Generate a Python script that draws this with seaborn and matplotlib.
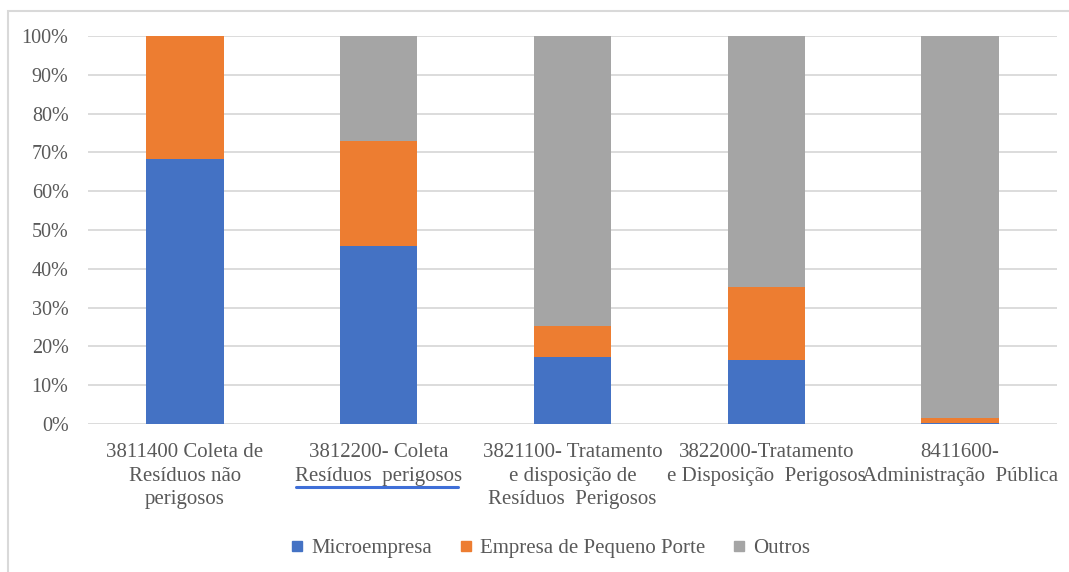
import matplotlib
matplotlib.use("Agg")
import matplotlib.pyplot as plt
from matplotlib.lines import Line2D
from matplotlib.patches import Rectangle
from matplotlib.ticker import PercentFormatter
import seaborn as sns
import pandas as pd
import numpy as np

# Share of establishments by company size, per activity code (%)
categories = [
    "3811400 Coleta de\nResíduos não\nperigosos",
    "3812200- Coleta\nResíduos  perigosos",
    "3821100- Tratamento\ne disposição de\nResíduos  Perigosos",
    "3822000-Tratamento\ne Disposição  Perigosos",
    "8411600-\nAdministração  Pública",
]
microempresa = [68.3, 45.9, 17.3, 16.5, 0.2]
pequeno_porte = [31.7, 27.0, 7.9, 18.7, 1.4]
outros = [0.0, 27.1, 74.8, 64.8, 98.4]

series_names = ["Microempresa", "Empresa de Pequeno Porte", "Outros"]
colors = ["#4472C4", "#ED7D31", "#A5A5A5"]
text_color = "#595959"
grid_color = "#D9D9D9"

sns.set_theme(style="white")
plt.rcParams["font.family"] = ["Liberation Serif", "DejaVu Serif"]

df = pd.DataFrame({
    "categoria": categories,
    "micro": np.array(microempresa) / 100,
    "epp": np.array(pequeno_porte) / 100,
    "outros": np.array(outros) / 100,
})
df["lvl2"] = df["micro"] + df["epp"]
df["lvl3"] = df["lvl2"] + df["outros"]

fig = plt.figure(figsize=(10.69, 5.72), dpi=100)
ax = fig.add_axes([88 / 1069, 148 / 572, 969 / 1069, 388 / 572])

# Stacked bars: draw cumulative totals back to front
for col, color in zip(["lvl3", "lvl2", "micro"], colors[::-1]):
    sns.barplot(data=df, x="categoria", y=col, color=color, width=0.4,
                saturation=1, ax=ax, zorder=3, linewidth=0, edgecolor="none")

ax.set_xlim(-0.5, len(categories) - 0.5)
ax.set_ylim(0, 1)
ax.set_yticks(np.arange(0, 1.01, 0.1))
ax.yaxis.set_major_formatter(PercentFormatter(1.0, decimals=0))
ax.grid(axis="y", color=grid_color, linewidth=1.3, zorder=0)
ax.set_axisbelow(True)
for s in ax.spines.values():
    s.set_visible(False)
ax.set_xlabel("")
ax.set_ylabel("")
ax.tick_params(axis="y", length=0, pad=14, labelsize=14.5, labelcolor=text_color)
ax.tick_params(axis="x", length=0, pad=14, labelsize=15, labelcolor=text_color)
for lbl in ax.get_xticklabels():
    lbl.set_linespacing(1.32)

handles = [Line2D([0], [0], marker="s", linestyle="", markersize=7.5,
                  markerfacecolor=c, markeredgecolor=c) for c in colors]
fig.legend(handles, series_names, loc="center", ncol=3,
           bbox_to_anchor=(550 / 1069, 1 - 548 / 572), frameon=False,
           fontsize=15, labelcolor=text_color, handlelength=0.7,
           handletextpad=0.3, columnspacing=1.3)

# Chart border
fig.patches.append(Rectangle((8 / 1069, -0.1), 1.2, 1 - 11 / 572 + 0.1,
                             transform=fig.transFigure, fill=False,
                             edgecolor=grid_color, linewidth=1.5))

# Underline beneath the second category's second line
fig.add_artist(Line2D([296 / 1069, 458 / 1069], [1 - 487 / 572, 1 - 487 / 572],
                      transform=fig.transFigure, color="#3F6FD8", linewidth=2.2))

fig.savefig("out.png", dpi=100)
